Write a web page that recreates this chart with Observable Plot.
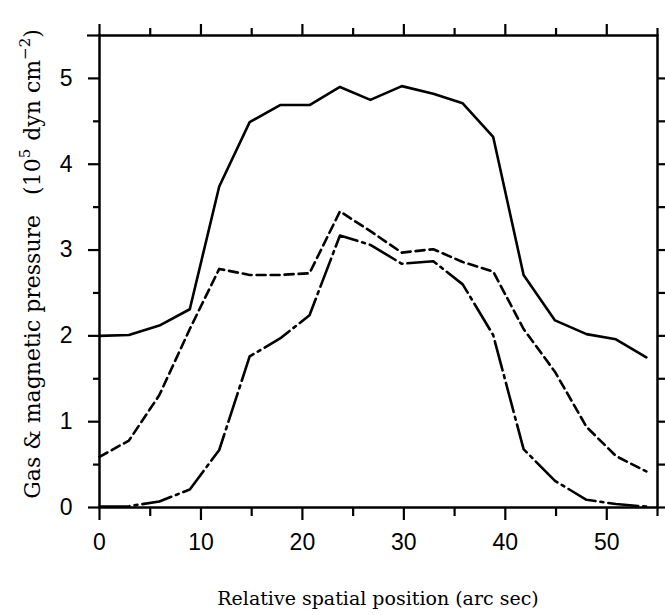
<!DOCTYPE html>
<html>
<head>
<meta charset="utf-8">
<script src="https://cdn.jsdelivr.net/npm/d3@7"></script>
<script src="https://cdn.jsdelivr.net/npm/@observablehq/plot@0.6"></script>
<style>
  html, body { margin: 0; padding: 0; background: #fff; }
  #chart { width: 665px; height: 615px; }
</style>
</head>
<body>
<div id="chart"></div>
<script>
// Relative spatial position (arc sec)
const position = [0, 2.9, 5.9, 8.9, 11.8, 14.8, 17.8, 20.7, 23.7, 26.7, 29.8, 32.9, 35.8, 38.8, 41.8, 44.9, 48.0, 50.9, 53.9];
// solid line
const totalPressure = [2.00, 2.01, 2.12, 2.31, 3.74, 4.49, 4.69, 4.69, 4.90, 4.75, 4.91, 4.82, 4.71, 4.32, 2.71, 2.18, 2.02, 1.96, 1.75];
// dashed line
const gasPressure = [0.59, 0.78, 1.31, 2.08, 2.78, 2.71, 2.71, 2.73, 3.45, 3.22, 2.97, 3.01, 2.86, 2.75, 2.08, 1.58, 0.94, 0.60, 0.42];
// dash-dot line
const magneticPressure = [0.01, 0.015, 0.07, 0.21, 0.67, 1.76, 1.97, 2.24, 3.17, 3.06, 2.84, 2.87, 2.60, 2.01, 0.68, 0.31, 0.09, 0.04, 0.01];

const xMajorTicks = [0, 10, 20, 30, 40, 50];
const xMinorTicks = [5, 15, 25, 35, 45, 55];
const yMajorTicks = [0, 1, 2, 3, 4, 5];
const yMinorTicks = [0.5, 1.5, 2.5, 3.5, 4.5];
const yRightTicks = [0, 0.5, 1, 1.5, 2, 2.5, 3, 3.5, 4, 4.5, 5];

const xTitle = "Relative spatial position (arc sec)";
const yTitleMain = "Gas & magnetic pressure";

const rows = position.map((x, i) => ({
  x,
  total: totalPressure[i],
  gas: gasPressure[i],
  mag: magneticPressure[i]
}));

const none = () => "";
const intFmt = d => String(d);
const tickW = 2.2;

const chart = Plot.plot({
  width: 665,
  height: 615,
  marginLeft: 99,
  marginRight: 8,
  marginTop: 35,
  marginBottom: 108,
  x: { domain: [0, 55] },
  y: { domain: [0, 5.5] },
  style: {
    fontFamily: "'Liberation Sans', Arial, sans-serif",
    fontSize: "23px",
    background: "#fff",
    color: "#000"
  },
  marks: [
    Plot.axisX({ ticks: xMajorTicks, anchor: "bottom", tickSize: 13, tickPadding: 13, label: null, strokeWidth: tickW, fontSize: 23, tickFormat: intFmt }),
    Plot.axisX({ ticks: xMinorTicks, anchor: "bottom", tickSize: 9, tickFormat: none, label: null, strokeWidth: tickW }),
    Plot.axisX({ ticks: xMajorTicks, anchor: "top", tickSize: 12, tickFormat: none, label: null, strokeWidth: tickW }),
    Plot.axisX({ ticks: xMinorTicks, anchor: "top", tickSize: 8, tickFormat: none, label: null, strokeWidth: tickW }),
    Plot.axisY({ ticks: yMajorTicks, anchor: "left", tickSize: 11, tickPadding: 16, label: null, strokeWidth: tickW, fontSize: 23, tickFormat: intFmt }),
    Plot.axisY({ ticks: [5.5], anchor: "left", tickSize: 12, tickFormat: none, label: null, strokeWidth: tickW }),
    Plot.axisY({ ticks: yMinorTicks, anchor: "left", tickSize: 6, tickFormat: none, label: null, strokeWidth: tickW }),
    Plot.axisY({ ticks: yRightTicks, anchor: "right", tickSize: 9, tickFormat: none, label: null, strokeWidth: tickW }),
    Plot.frame({ stroke: "#000", strokeWidth: 2.5 }),
    Plot.line(rows, { x: "x", y: "total", stroke: "#000", strokeWidth: 2.6 }),
    Plot.line(rows, { x: "x", y: "gas", stroke: "#000", strokeWidth: 2.6, strokeDasharray: "9,5" }),
    Plot.line(rows, { x: "x", y: "mag", stroke: "#000", strokeWidth: 2.6, strokeDasharray: "30,5,3,5" })
  ]
});

document.getElementById("chart").appendChild(chart);

const svg = d3.select(chart);

// X title
svg.append("text")
  .attr("x", 378)
  .attr("y", 605)
  .attr("text-anchor", "middle")
  .attr("font-family", "'DejaVu Serif', serif")
  .attr("font-size", 19)
  .attr("fill", "#000")
  .text(xTitle);

// Y title with superscripts
const yt = svg.append("text")
  .attr("transform", "translate(40,264) rotate(-90)")
  .attr("text-anchor", "middle")
  .attr("font-family", "'DejaVu Serif', serif")
  .attr("font-size", 22)
  .attr("fill", "#000");
yt.append("tspan").text(yTitleMain);
yt.append("tspan").attr("dx", 20).text("(10");
yt.append("tspan").attr("dy", -10).attr("font-size", 15).text("5");
yt.append("tspan").attr("dy", 10).attr("dx", 8).text("dyn cm");
yt.append("tspan").attr("dy", -10).attr("font-size", 15).text("\u22122");
yt.append("tspan").attr("dy", 10).text(")");
</script>
</body>
</html>
